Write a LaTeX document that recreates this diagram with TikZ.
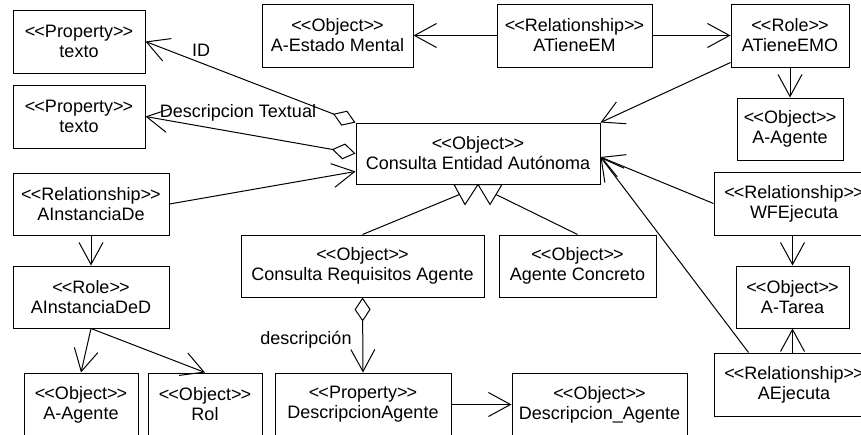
\documentclass[tikz,border=0pt]{standalone}
\usepackage{fontspec}
\setmainfont{Liberation Sans}
\usetikzlibrary{arrows.meta}

\newcommand\estereo[1]{<\kern-0.4pt<#1>\kern-0.4pt>}

\tikzset{
	caja/.style={draw,fill=white,align=center,inner sep=0pt,font=\fontsize{9}{10}\selectfont},
	etiq/.style={font=\fontsize{9}{10}\selectfont,inner sep=0pt},
	punta/.tip={Straight Barb[length=11pt,width=12pt,line width=0.5pt]},
	fl/.style={-punta},
	agr/.style={{Diamond[open,length=12pt,width=8pt]}-punta}
}

\begin{document}
\begin{tikzpicture}[x=0.5pt,y=-0.5pt,line width=0.5pt]
		\clip (0,0) rectangle (861,434);
		\fill[white] (0,0) rectangle (861,434);

		% Boites
		\node[caja,minimum width=66pt,minimum height=31.5pt] (prop1) at (79,41.5) {\estereo{Property}\\texto};
		\node[caja,minimum width=66pt,minimum height=31.5pt] (prop2) at (79,116.5) {\estereo{Property}\\texto};
		\node[caja,minimum width=78pt,minimum height=31pt] (instDe) at (91,204) {\estereo{Relationship}\\AInstanciaDe};
		\node[caja,minimum width=78pt,minimum height=31pt] (instDeD) at (91,297) {\estereo{Role}\\AInstanciaDeD};
		\node[caja,minimum width=57pt,minimum height=31.5pt] (agenteL) at (81,404.5) {\estereo{Object}\\A-Agente};
		\node[caja,minimum width=57pt,minimum height=31.5pt] (rol) at (205,404.5) {\estereo{Object}\\Rol};
		\node[caja,minimum width=75.5pt,minimum height=31.5pt] (estado) at (337.5,35.5) {\estereo{Object}\\A-Estado Mental};
		\node[caja,minimum width=77.5pt,minimum height=31.5pt] (tieneEM) at (574.5,35.5) {\estereo{Relationship}\\ATieneEM};
		\node[caja,minimum width=59pt,minimum height=31.5pt] (tieneEMO) at (790,35.5) {\estereo{Role}\\ATieneEMO};
		\node[caja,minimum width=53pt,minimum height=31pt] (agenteR) at (790,129) {\estereo{Object}\\A-Agente};
		\node[caja,minimum width=122pt,minimum height=30.5pt] (entidad) at (478,153.5) {\estereo{Object}\\Consulta Entidad Autónoma};
		\node[caja,minimum width=80pt,minimum height=31.5pt] (wfEj) at (794,203.5) {\estereo{Relationship}\\WFEjecuta};
		\node[caja,minimum width=56.5pt,minimum height=31pt] (tarea) at (792.5,297) {\estereo{Object}\\A-Tarea};
		\node[caja,minimum width=80pt,minimum height=31.5pt] (aEj) at (794,384.5) {\estereo{Relationship}\\AEjecuta};
		\node[caja,minimum width=121.5pt,minimum height=31pt] (reqAg) at (362.5,266) {\estereo{Object}\\Consulta Requisitos Agente};
		\node[caja,minimum width=78.5pt,minimum height=31pt] (concreto) at (577.5,266) {\estereo{Object}\\Agente Concreto};
		\node[caja,minimum width=88pt,minimum height=31.5pt] (descAg) at (363,404.5) {\estereo{Property}\\DescripcionAgente};
		\node[caja,minimum width=87.5pt,minimum height=31.5pt] (descObj) at (599.5,404.5) {\estereo{Object}\\Descripcion\_Agente};

		% Agregaciones
		\draw[agr] (entidad.north west) -- (prop1.east);
		\draw[agr] (entidad.west) -- (prop2.east);
		\draw[agr] (reqAg.south) -- (descAg.north);
		\node[etiq] (lblID) at (201,50) {ID};
		\node[etiq] (lblDesc) at (238,113) {Descripcion Textual};
		\node[etiq] (lblDescr) at (306,340) {descripción};

		% Relaciones
		\draw[fl] (instDe.east) -- ([yshift=-9pt]entidad.west);
		\draw[fl] (instDe.south) -- (instDeD.north);
		\draw[fl] (instDeD.south) -- (agenteL.north);
		\draw[fl] (instDeD.south) -- (rol.north);
		\draw[fl] (tieneEM.west) -- (estado.east);
		\draw[fl] (tieneEM.east) -- (tieneEMO.west);
		\draw[fl] ([yshift=2.5pt]tieneEMO.south west) -- (entidad.north east);
		\draw[fl] (tieneEMO.south) -- (agenteR.north);
		\draw[fl] (wfEj.west) -- ([yshift=-1.75pt]entidad.east);
		\draw[fl] ([xshift=17.5pt]aEj.north west) -- ([yshift=-1.75pt]entidad.east);
		\draw[fl] (tarea.north |- wfEj.south) -- (tarea.north);
		\draw[fl] (tarea.south |- aEj.north) -- (tarea.south);
		\draw[fl] (descAg.east) -- (descObj.west);

		% Herencia
		\draw[fill=white] (entidad.south) -- ++(-24,0) -- ++(11,20) -- cycle;
		\draw[fill=white] (entidad.south) -- ++(24,0) -- ++(-12,20) -- cycle;
		\coordinate (g1) at ([shift={(-18.5,10)}]entidad.south);
		\coordinate (g2) at ([shift={(18,10)}]entidad.south);
		\draw (reqAg.north) -- (g1);
		\draw (concreto.north) -- (g2);
\end{tikzpicture}
\end{document}
